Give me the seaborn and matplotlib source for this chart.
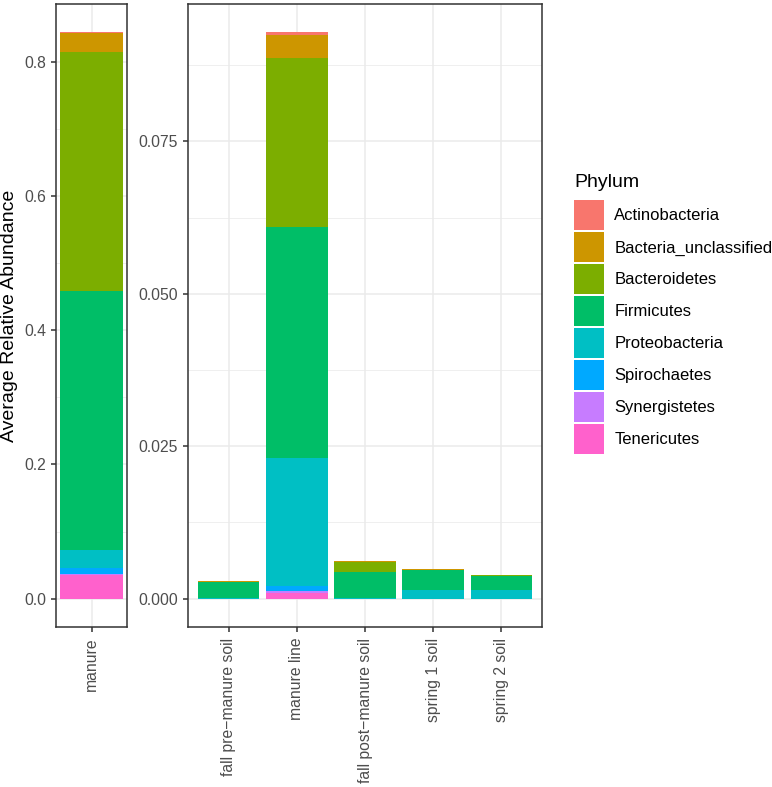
import numpy as np
import pandas as pd
import matplotlib
matplotlib.use("Agg")
import matplotlib.pyplot as plt
import seaborn as sns
from matplotlib.patches import Patch
from matplotlib.ticker import FixedLocator

# ---------------- data ----------------
phyla = ["Actinobacteria", "Bacteria_unclassified", "Bacteroidetes", "Firmicutes",
         "Proteobacteria", "Spirochaetes", "Synergistetes", "Tenericutes"]
colors = ["#F8766D", "#CD9600", "#7CAE00", "#00BE67",
          "#00BFC4", "#00A9FF", "#C77CFF", "#FF61CC"]

left_samples = ["manure"]
right_samples = ["fall pre\u2212manure soil", "manure line", "fall post\u2212manure soil",
                 "spring 1 soil", "spring 2 soil"]
samples = left_samples + right_samples

actinobacteria        = [0.0005, 0.0, 0.0005, 0.0, 0.0, 0.0]
bacteria_unclassified = [0.0295, 0.0001, 0.0037, 0.0001, 0.0001, 0.0001]
bacteroidetes         = [0.355, 0.0, 0.0278, 0.0017, 0.0001, 0.0001]
firmicutes            = [0.386, 0.0027, 0.0378, 0.0042, 0.0033, 0.0024]
proteobacteria        = [0.028, 0.0001, 0.0211, 0.0001, 0.00136, 0.00136]
spirochaetes          = [0.008, 0.0, 0.0008, 0.0, 0.0, 0.0]
synergistetes         = [0.002, 0.0, 0.0002, 0.0, 0.0, 0.0]
tenericutes           = [0.035, 0.0, 0.001, 0.0, 0.0, 0.0]

values = [actinobacteria, bacteria_unclassified, bacteroidetes, firmicutes,
          proteobacteria, spirochaetes, synergistetes, tenericutes]

df = pd.DataFrame({p: v for p, v in zip(phyla, values)}, index=samples)
# cumulative from bottom (Tenericutes) upward: stacked as in ggplot (first level on top)
cum = df[phyla[::-1]].cumsum(axis=1)[phyla]

long = cum.reset_index().melt(id_vars="index", var_name="Phylum", value_name="cum")
long = long.rename(columns={"index": "Sample"})

# ---------------- figure ----------------
W, H = 772, 787
fig = plt.figure(figsize=(W / 100, H / 100), dpi=100)
plt.rcParams["font.family"] = ["Liberation Sans", "DejaVu Sans"]

def px_axes(x0, x1, y0, y1):
    return fig.add_axes([x0 / W, 1 - y1 / H, (x1 - x0) / W, (y1 - y0) / H])

axL = px_axes(56, 127, 4, 627)
axR = px_axes(188, 542, 4, 627)

grid_major = "#EBEBEB"
border = "#333333"
txt = "#4D4D4D"

def draw_panel(ax, cats, major, fmt, xlim):
    sub = long[long["Sample"].isin(cats)]
    for p, c in zip(phyla, colors):
        d = sub[sub["Phylum"] == p]
        sns.barplot(data=d, x="Sample", y="cum", order=cats, color=c, width=0.9,
                    saturation=1, ax=ax, errorbar=None, linewidth=0, zorder=3)
    total = cum.loc[cats, phyla[0]].max()
    pad = total * 0.05
    ax.set_ylim(-pad, total + pad)
    ax.set_xlim(*xlim)
    ax.set_facecolor("white")
    ax.set_yticks(major)
    ax.set_yticklabels([fmt.format(v) for v in major])
    step = major[1] - major[0]
    minors = [m + step / 2 for m in [major[0] - step] + list(major)]
    minors = [m for m in minors if -pad < m < total + pad]
    ax.yaxis.set_minor_locator(FixedLocator(minors))
    ax.grid(True, which="major", axis="both", color=grid_major, linewidth=1.1, zorder=0)
    ax.grid(True, which="minor", axis="y", color=grid_major, linewidth=0.55, zorder=0)
    ax.set_axisbelow(True)
    for s in ax.spines.values():
        s.set_color(border)
        s.set_linewidth(1.1)
    ax.tick_params(axis="both", which="major", length=3.7, width=1.1, color=border,
                   labelcolor=txt, labelsize=11.3)
    ax.tick_params(axis="y", which="minor", length=0)
    ax.tick_params(axis="x", labelrotation=90, pad=4)
    ax.set_xlabel("")
    ax.set_ylabel("")

draw_panel(axL, left_samples, [0.0, 0.2, 0.4, 0.6, 0.8], "{:.1f}", (-0.5, 0.5))
draw_panel(axR, right_samples, [0.0, 0.025, 0.05, 0.075], "{:.3f}", (-0.6, 4.6))

axL.set_ylabel("Average Relative Abundance", fontsize=14, color="black", labelpad=4)

handles = [Patch(facecolor=c, edgecolor="none", label=p) for p, c in zip(phyla, colors)]
leg = fig.legend(handles=handles, loc="upper left", bbox_to_anchor=(566 / W, 1 - 166 / H),
                 frameon=False, fontsize=12, title="Phylum", title_fontsize=14,
                 handlelength=1.8, handleheight=2.39, labelspacing=0.12,
                 handletextpad=0.6, borderpad=0.0, alignment="left")
leg._legend_box.sep = 6.5

fig.savefig("out.png", dpi=100, facecolor="white")
